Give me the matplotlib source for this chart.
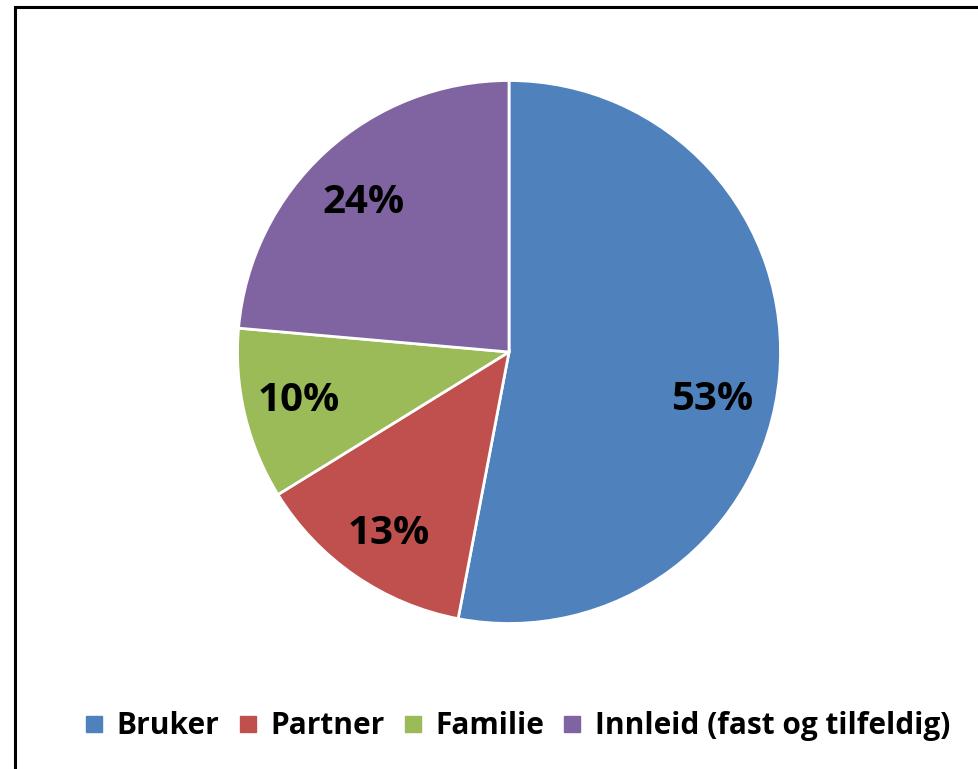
import matplotlib.pyplot as plt
from matplotlib.patches import Rectangle
from matplotlib.lines import Line2D

plt.rcParams['font.family'] = ['Open Sans', 'DejaVu Sans']

categories = ['Bruker', 'Partner', 'Familie', 'Innleid (fast og tilfeldig)']
shares = [53.0, 13.2, 10.2, 23.6]
colors = ['#4F81BD', '#C0504D', '#9BBB59', '#8064A2']

W, H = 979, 769
fig = plt.figure(figsize=(W / 100, H / 100), dpi=100)

# black frame (only top and left edges visible in original)
fig.patches.append(Rectangle((15 / W, -0.05), 1.2, 1 - 7 / H + 0.05, transform=fig.transFigure,
                             fill=False, edgecolor='black', linewidth=2.2))

cx, cy, r = 509, 352, 271.5
ax = fig.add_axes([(cx - r) / W, (H - cy - r) / H, 2 * r / W, 2 * r / H])
wedges, texts, autotexts = ax.pie(shares, colors=colors, startangle=90, counterclock=False,
                                  autopct=lambda p: f'{p:.0f}%', pctdistance=0.78,
                                  wedgeprops=dict(edgecolor='white', linewidth=2),
                                  textprops=dict(fontsize=29, fontweight='bold', color='black'))
# nudge labels toward Excel's best-fit spots
nudges = [(-0.03, -0.1), (0, -0.025), (-0.015, 0), (-0.01, -0.025)]
for t, (dx, dy) in zip(autotexts, nudges):
    x0, y0 = t.get_position()
    t.set_position((x0 + dx, y0 + dy))
ax.set_xlim(-1, 1)
ax.set_ylim(-1, 1)
ax.set_aspect('equal')
ax.axis('off')

handles = [Line2D([], [], marker='s', linestyle='none', markersize=12, markerfacecolor=c,
                  markeredgecolor=c) for c in colors]
fig.legend(handles, categories, loc='center', bbox_to_anchor=(516 / W, 1 - 726 / H), ncol=4,
           frameon=False, prop=dict(size=21.5, weight='bold'), handlelength=0.8, handletextpad=0.35,
           columnspacing=0.55)

fig.savefig('out.png', dpi=100)
